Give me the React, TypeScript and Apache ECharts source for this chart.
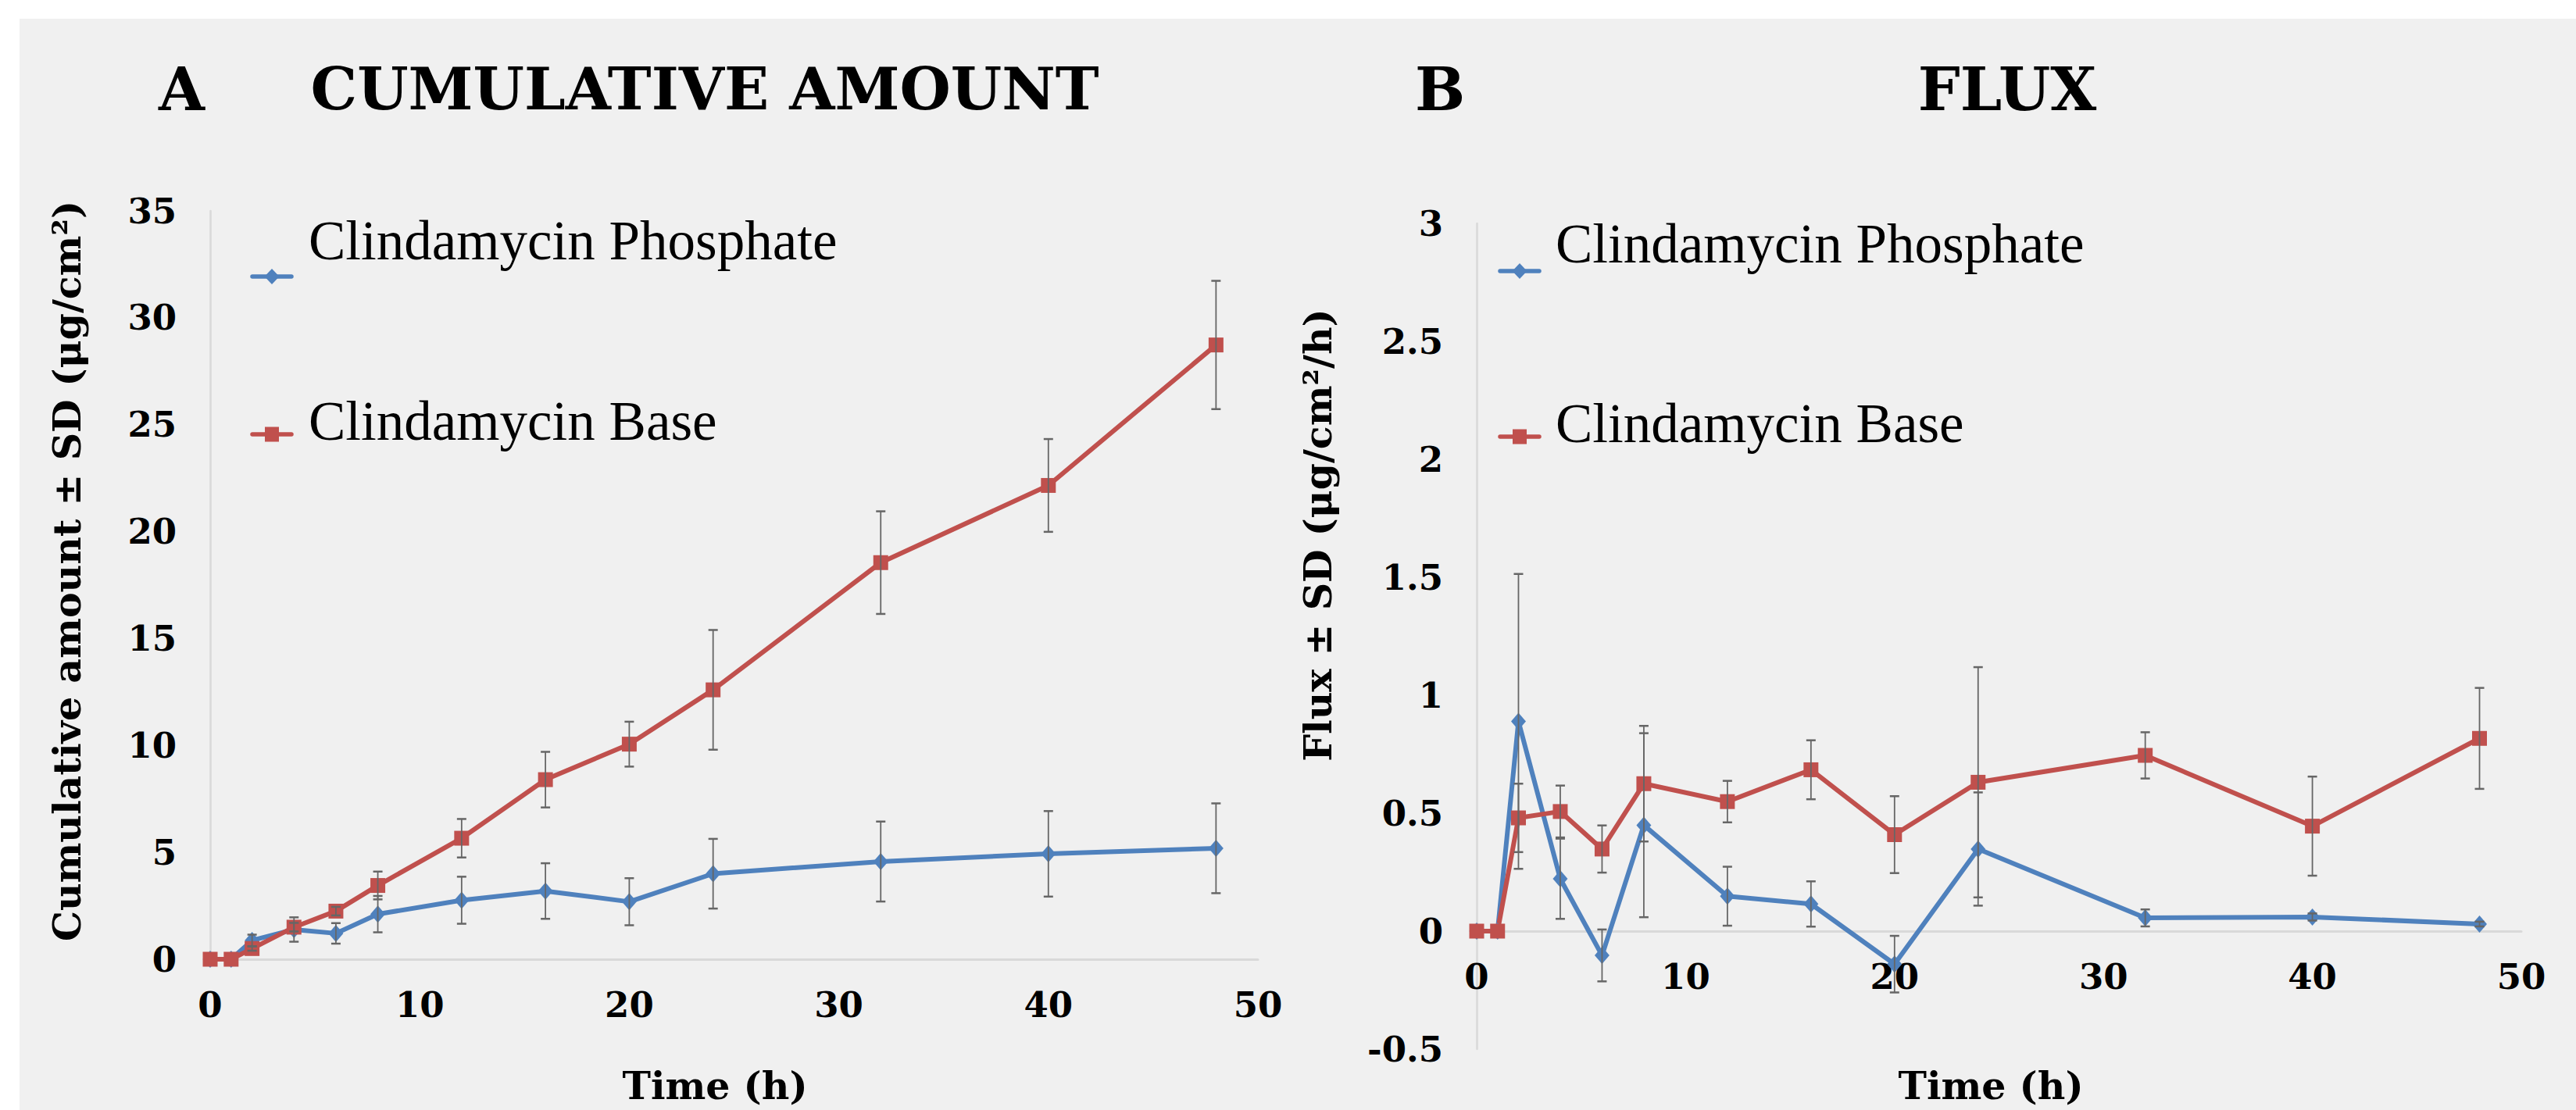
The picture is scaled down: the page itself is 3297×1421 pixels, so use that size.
import React, { useEffect, useRef } from "react";
import * as echarts from "echarts";

const time = [0, 1, 2, 4, 6, 8, 12, 16, 20, 24, 32, 40, 48];

const cumPhos = [0, 0, 0.88, 1.39, 1.21, 2.11, 2.76, 3.19, 2.69, 4.0, 4.57, 4.93, 5.19];
const cumPhosSD = [0, 0, 0.27, 0.57, 0.48, 0.85, 1.1, 1.3, 1.1, 1.63, 1.87, 2.0, 2.1];
const cumBase = [0, 0, 0.5, 1.5, 2.25, 3.45, 5.66, 8.4, 10.06, 12.6, 18.55, 22.16, 28.73];
const cumBaseSD = [0, 0, 0.1, 0.2, 0.2, 0.65, 0.9, 1.3, 1.05, 2.8, 2.4, 2.17, 3.0];

const fluxPhos = [0, 0, 0.889, 0.222, -0.103, 0.449, 0.148, 0.115, -0.14, 0.348, 0.056, 0.06, 0.03];
const fluxPhosSD = [0, 0, 0.625, 0.17, 0.11, 0.39, 0.125, 0.096, 0.12, 0.24, 0.036, 0.015, 0.01];
const fluxBase = [0, 0, 0.48, 0.507, 0.348, 0.625, 0.549, 0.684, 0.409, 0.631, 0.745, 0.445, 0.817];
const fluxBaseSD = [0, 0, 0.145, 0.11, 0.1, 0.245, 0.088, 0.125, 0.163, 0.488, 0.098, 0.21, 0.214];

const seriesNames = ["Clindamycin Phosphate", "Clindamycin Base"];
const panelTitles = ["CUMULATIVE AMOUNT", "FLUX"];
const panelLetters = ["A", "B"];
const yTitles = ["Cumulative amount \u00b1 SD (\u03bcg/cm\u00b2)", "Flux \u00b1 SD (\u03bcg/cm\u00b2/h)"];
const xTitle = "Time (h)";

const BLUE = "#4f81bd";
const RED = "#c0504d";
const AXIS = "#d9d9d9";
const ERR = "#666666";
const BOLD = '"DejaVu Serif", serif';
const LEG = '"Liberation Serif", "Times New Roman", serif';

// flux panel geometry: y range -0.5..3 drawn over 1057 px, x-axis sits at y = 0
const FLUX_MIN = -0.5;
const FLUX_MAX = 3;
const FLUX_H = 1057;
const FLUX_AXIS_OFFSET = -((0 - FLUX_MIN) / (FLUX_MAX - FLUX_MIN)) * FLUX_H;

function pairs(vals: number[]) {
  return time.map((t, i) => [t, vals[i]]);
}
function triples(vals: number[], sds: number[]) {
  return time.map((t, i) => [t, vals[i], sds[i]]);
}

function errRender(params: any, api: any) {
  const x = api.value(0);
  const y = api.value(1);
  const sd = api.value(2);
  if (!sd) return null;
  const top = api.coord([x, y + sd]);
  const bot = api.coord([x, y - sd]);
  const hw = 6;
  return {
    type: "group",
    children: [
      { type: "line", shape: { x1: top[0], y1: top[1], x2: bot[0], y2: bot[1] }, style: { stroke: ERR, lineWidth: 1.8 } },
      { type: "line", shape: { x1: top[0] - hw, y1: top[1], x2: top[0] + hw, y2: top[1] }, style: { stroke: ERR, lineWidth: 2.5 } },
      { type: "line", shape: { x1: bot[0] - hw, y1: bot[1], x2: bot[0] + hw, y2: bot[1] }, style: { stroke: ERR, lineWidth: 2.5 } },
    ],
  };
}

function axisLabel(margin: number) {
  return {
    margin,
    color: "#000",
    fontFamily: BOLD,
    fontWeight: "bold",
    fontSize: 45,
  };
}

function legendGroup(x: number, yPhos: number, yBase: number, textX: number, tPhos: number, tBase: number) {
  return [
    { type: "line", shape: { x1: x - 25, y1: yPhos, x2: x + 25, y2: yPhos }, style: { stroke: BLUE, lineWidth: 5.5, lineCap: "round" } },
    {
      type: "polygon",
      shape: { points: [[x, yPhos - 10], [x + 9.5, yPhos], [x, yPhos + 10], [x - 9.5, yPhos]] },
      style: { fill: BLUE },
    },
    { type: "line", shape: { x1: x - 25, y1: yBase, x2: x + 25, y2: yBase }, style: { stroke: RED, lineWidth: 5.5, lineCap: "round" } },
    { type: "rect", shape: { x: x - 9, y: yBase - 9.5, width: 18, height: 19 }, style: { fill: RED } },
    {
      type: "text",
      style: { text: seriesNames[0], x: textX, y: tPhos, font: `71px ${LEG}`, fill: "#000", textAlign: "left", textVerticalAlign: "middle" },
    },
    {
      type: "text",
      style: { text: seriesNames[1], x: textX, y: tBase, font: `71px ${LEG}`, fill: "#000", textAlign: "left", textVerticalAlign: "middle" },
    },
  ];
}

export default function App() {
  const ref = useRef<HTMLDivElement>(null);
  useEffect(() => {
    if (!ref.current) return;
    const chart = echarts.init(ref.current, null, { renderer: "svg" });
    const lineSeries = (name: string, data: any, xi: number, color: string, symbol: string, size: any) => ({
      name,
      type: "line",
      xAxisIndex: xi,
      yAxisIndex: xi,
      data,
      symbol,
      symbolSize: size,
      showSymbol: true,
      lineStyle: { color, width: 6 },
      itemStyle: { color },
      z: 2,
    });
    const errSeries = (data: any, xi: number) => ({
      type: "custom",
      xAxisIndex: xi,
      yAxisIndex: xi,
      data,
      renderItem: errRender,
      encode: { x: 0, y: 1 },
      z: 3,
    });
    const xAxisBase = {
      type: "value",
      min: 0,
      max: 50,
      interval: 10,
      axisTick: { show: false },
      splitLine: { show: false },
      axisLabel: axisLabel(36),
    };
    const option: any = {
      animation: false,
      backgroundColor: "transparent",
      grid: [
        { left: 269, top: 270, width: 1341, height: 958 },
        { left: 1890, top: 286, width: 1337, height: FLUX_H },
      ],
      xAxis: [
        { ...xAxisBase, gridIndex: 0, axisLine: { show: true, onZero: false, lineStyle: { color: AXIS, width: 3 } } },
        {
          ...xAxisBase,
          gridIndex: 1,
          position: "bottom",
          offset: FLUX_AXIS_OFFSET,
          axisLine: { show: true, onZero: false, lineStyle: { color: AXIS, width: 3 } },
        },
      ],
      yAxis: [
        {
          gridIndex: 0,
          type: "value",
          min: 0,
          max: 35,
          interval: 5,
          axisLine: { show: true, lineStyle: { color: AXIS, width: 2.5 } },
          axisTick: { show: false },
          splitLine: { show: false },
          axisLabel: axisLabel(43),
        },
        {
          gridIndex: 1,
          type: "value",
          min: FLUX_MIN,
          max: FLUX_MAX,
          interval: 0.5,
          axisLine: { show: true, lineStyle: { color: AXIS, width: 2.5 } },
          axisTick: { show: false },
          splitLine: { show: false },
          axisLabel: axisLabel(43),
        },
      ],
      series: [
        lineSeries(seriesNames[0], pairs(cumPhos), 0, BLUE, "diamond", [19, 22]),
        lineSeries(seriesNames[1], pairs(cumBase), 0, RED, "rect", [19, 19]),
        errSeries(triples(cumPhos, cumPhosSD), 0),
        errSeries(triples(cumBase, cumBaseSD), 0),
        lineSeries(seriesNames[0], pairs(fluxPhos), 1, BLUE, "diamond", [19, 22]),
        lineSeries(seriesNames[1], pairs(fluxBase), 1, RED, "rect", [19, 19]),
        errSeries(triples(fluxPhos, fluxPhosSD), 1),
        errSeries(triples(fluxBase, fluxBaseSD), 1),
      ],
      graphic: [
        { type: "text", style: { text: panelLetters[0], x: 203, y: 114, font: `bold 76px ${BOLD}`, fill: "#000", textAlign: "left", textVerticalAlign: "middle" } },
        { type: "text", style: { text: panelTitles[0], x: 902, y: 114, font: `bold 75px ${BOLD}`, fill: "#000", textAlign: "center", textVerticalAlign: "middle" } },
        { type: "text", style: { text: panelLetters[1], x: 1811, y: 114, font: `bold 76px ${BOLD}`, fill: "#000", textAlign: "left", textVerticalAlign: "middle" } },
        { type: "text", style: { text: panelTitles[1], x: 2569, y: 114, font: `bold 76px ${BOLD}`, fill: "#000", textAlign: "center", textVerticalAlign: "middle" } },
        {
          type: "text",
          x: 86,
          y: 731,
          rotation: Math.PI / 2,
          style: { text: yTitles[0], x: 0, y: 0, font: `bold 49px ${BOLD}`, fill: "#000", textAlign: "center", textVerticalAlign: "middle" },
        },
        {
          type: "text",
          x: 1687,
          y: 685,
          rotation: Math.PI / 2,
          style: { text: yTitles[1], x: 0, y: 0, font: `bold 49px ${BOLD}`, fill: "#000", textAlign: "center", textVerticalAlign: "middle" },
        },
        { type: "text", style: { text: xTitle, x: 915, y: 1390, font: `bold 49px ${BOLD}`, fill: "#000", textAlign: "center", textVerticalAlign: "middle" } },
        { type: "text", style: { text: xTitle, x: 2548, y: 1390, font: `bold 49px ${BOLD}`, fill: "#000", textAlign: "center", textVerticalAlign: "middle" } },
        ...legendGroup(348, 354, 556, 395, 308, 539),
        ...legendGroup(1945, 347, 559, 1991, 312, 542),
      ],
    };
    chart.setOption(option);
    return () => chart.dispose();
  }, []);

  return (
    <div style={{ position: "absolute", left: 0, top: 0, width: 3297, height: 1421, background: "#ffffff", overflow: "hidden" }}>
      <div style={{ position: "absolute", left: 25, top: 24, width: 3272, height: 1397, background: "#f0f0f0" }} />
      <div ref={ref} style={{ position: "absolute", left: 0, top: 0, width: 3297, height: 1421 }} />
    </div>
  );
}
